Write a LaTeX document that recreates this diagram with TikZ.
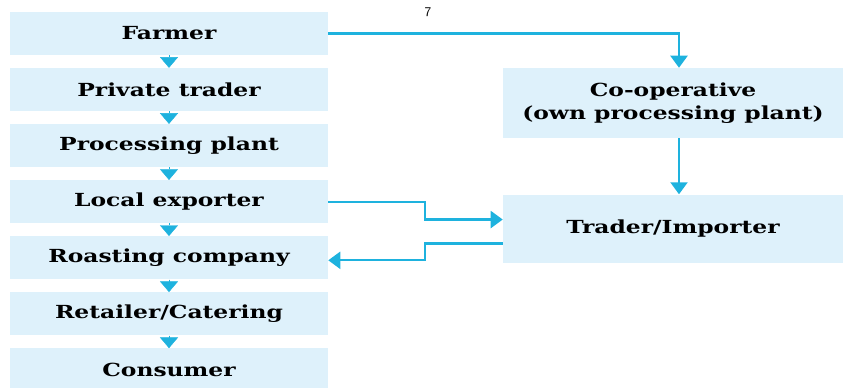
\documentclass[tikz,border=0pt]{standalone}
\usepackage{fontspec}
\setmainfont{DejaVu Serif}
\newfontfamily\chainfont[FakeStretch=1.3]{DejaVu Serif}
\usepackage{xcolor}
\usepackage{tikz}
\usetikzlibrary{arrows.meta,positioning,calc}
\definecolor{paleblue}{RGB}{222,241,251}
\definecolor{flowcyan}{RGB}{30,178,222}
\tikzset{
  stage/.style={rectangle,fill=paleblue,inner sep=0pt,minimum width=238.5pt,
              minimum height=32.25pt,align=center,font=\chainfont\bfseries\fontsize{13.5}{17}\selectfont},
  side/.style={stage,minimum width=255pt},
  drop/.style={-{Triangle[length=8pt,width=13.5pt]},line width=0.3pt,draw=flowcyan,fill=flowcyan},
  flow/.style={-{Triangle[length=9pt,width=12.75pt]},line width=1.6pt,draw=flowcyan},
}

\begin{document}
\begin{tikzpicture}[x=0.75pt,y=-0.75pt,node distance=9.4pt]
  \useasboundingbox (0,0) rectangle (845,387);
  \node[stage] (farmer) at (169,33.5) {Farmer};
  \node[stage,below=of farmer] (ptrader) {Private trader};
  \node[stage,below=of ptrader] (plant) {Processing plant};
  \node[stage,below=of plant] (exporter) {Local exporter};
  \node[stage,below=of exporter] (roaster) {Roasting company};
  \node[stage,below=of roaster] (retail) {Retailer/Catering};
  \node[stage,below=of retail] (consumer) {Consumer};
  \node[side,minimum height=52.5pt] (coop) at (673,103) {Co-operative\\(own processing plant)};
  \node[side,minimum height=51pt,below=42pt of coop] (importer) {Trader/Importer};
  \node[font=\sffamily] (page) at (428,12) {7};

  \foreach \a/\b in {farmer/ptrader,ptrader/plant,plant/exporter,exporter/roaster,roaster/retail,retail/consumer}
    \draw[drop] (\a.south) -- (\b.north);

  \draw[flow] (farmer.east) -| ([xshift=4.5pt]coop.north);
  \draw[flow] ([xshift=4.5pt]coop.south) -- ([xshift=4.5pt]importer.north);
  \draw[flow] (exporter.east) -- ++(72.75pt,0) |- ([yshift=6.75pt]importer.west);
  \draw[flow] ([yshift=-11.25pt]importer.west) -- ++(-58.5pt,0) |- ([yshift=-1.9pt]roaster.east);
\end{tikzpicture}
\end{document}
